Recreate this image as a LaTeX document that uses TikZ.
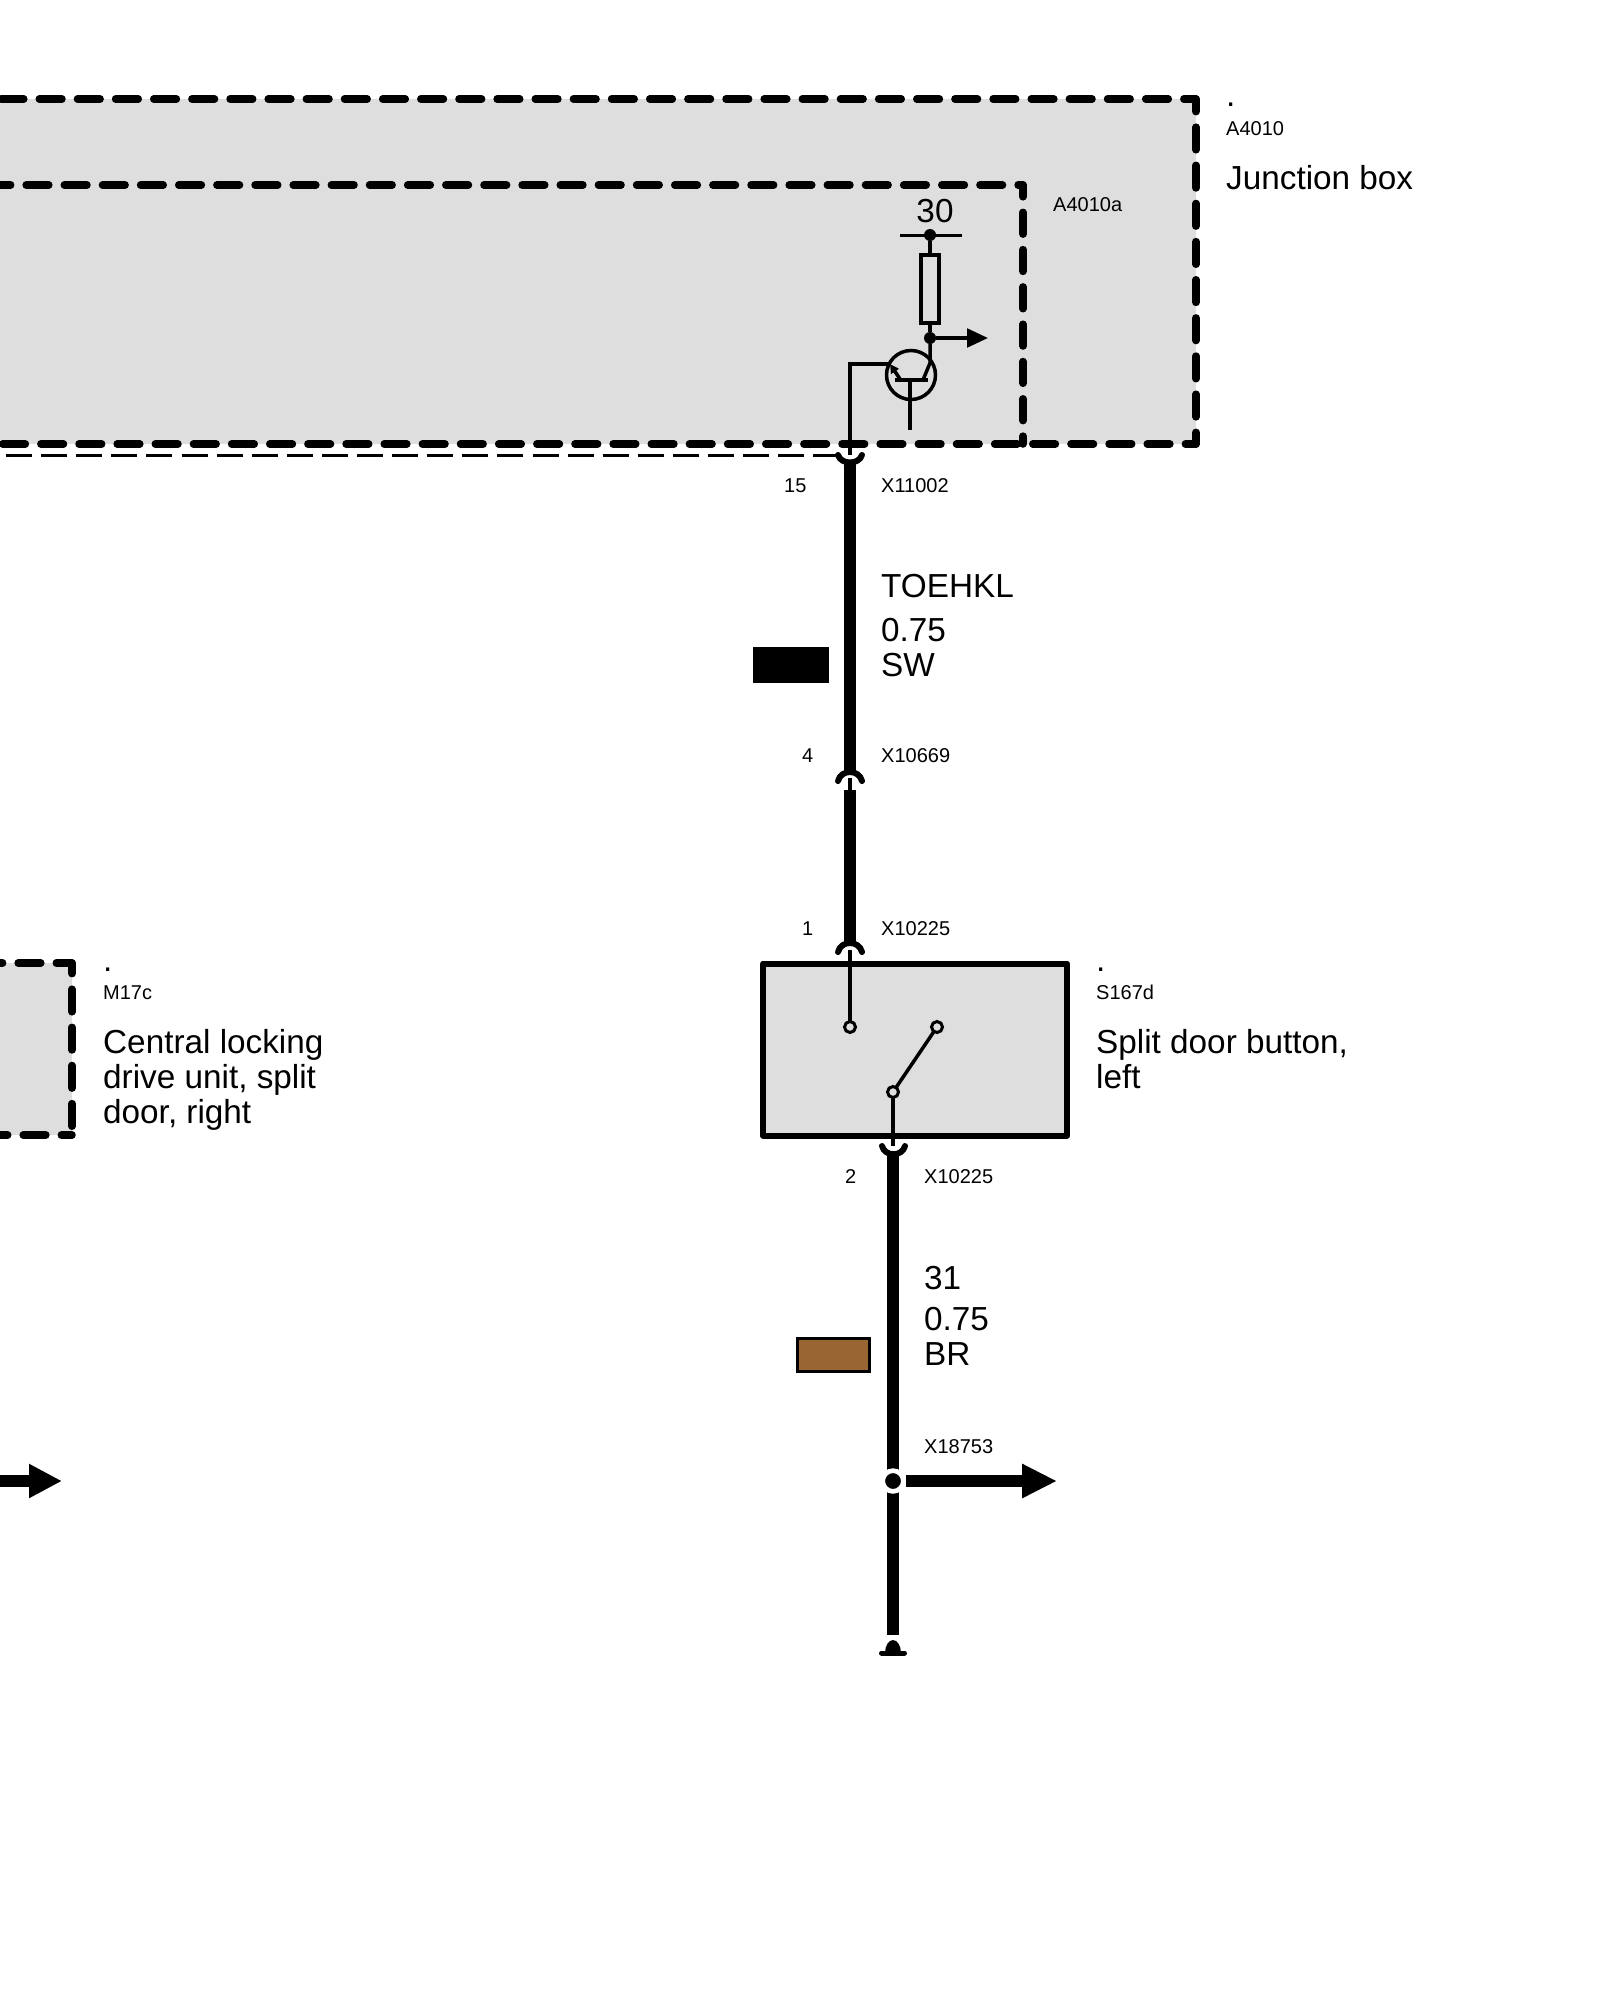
\documentclass[tikz,border=0pt]{standalone}
\usepackage{fontspec}
\setmainfont{Liberation Sans}
\usetikzlibrary{arrows.meta}
\definecolor{boxgrey}{HTML}{DEDEDE}
\definecolor{wirebrown}{HTML}{996633}
\tikzset{
  smalltext/.style={anchor=base west,inner sep=0pt,font=\fontsize{20}{24}\selectfont},
  bigtext/.style={anchor=base west,inner sep=0pt,align=left,font=\fontsize{33.3}{35}\selectfont},
  dashside/.style={line width=7.5pt,line cap=round,dash pattern=on 22.65pt off 15.5pt},
  thickwire/.style={line width=12.5pt},
  thinwire/.style={line width=3.5pt},
  hookline/.style={line width=6pt,line cap=round},
  contact/.style={circle,draw,fill=boxgrey,line width=3pt,inner sep=0pt,outer sep=0pt,minimum size=11pt},
  tapdot/.style={circle,fill=black,inner sep=0pt,outer sep=0pt,minimum size=12pt},
  junctiondot/.style={circle,fill=black,draw=white,line width=4.7pt,inner sep=0pt,outer sep=0pt,minimum size=20.7pt},
}
\begin{document}
\begin{tikzpicture}[x=1pt,y=-1pt]
\useasboundingbox[fill=white] (0,0) rectangle (1600,2000);
%A4010
\fill[boxgrey] (0,99) rectangle (1196,444);
\draw[dashside] (-37,99) -- (1196,99);
\draw[dashside,dash phase=10pt] (1196,99) -- (1196,444);
\draw[dashside,dash phase=12pt] (1196,444) -- (-38,444);
%A4010a
\draw[dashside] (-12,185) -- (1023,185);
\draw[dashside,dash pattern=on 21.8pt off 15.5pt,dash phase=10pt] (1023,185) -- (1023,444);
\draw[line width=3.3pt,dash pattern=on 26pt off 9.1pt] (6,455.5) -- (838,455.5);
\node[bigtext] (dotA) at (1226,106) {.};
\node[smalltext] (lblA4010) at (1226,135) {A4010};
\node[bigtext] (lblJunction) at (1226,189) {Junction box};
\node[smalltext] (lblA4010a) at (1053,211) {A4010a};
%circuit in A4010a
\node[bigtext,anchor=base] (lbl30) at (935,222) {30};
\coordinate (barL) at (900,235);
\coordinate (barR) at (962,235);
\node[tapdot] (dotTop) at (930,235) {};
\node[draw,thinwire,inner sep=0pt,minimum width=18pt,minimum height=68pt] (resistor) at (930,289) {};
\node[tapdot] (dotTap) at (930,338) {};
\coordinate (tapEnd) at (988,338);
\node[circle,draw,thinwire,inner sep=0pt,minimum size=49pt] (transistor) at (911,375) {};
\coordinate (baseL) at (895,380);
\coordinate (baseR) at (928,380);
\coordinate (baseM) at (910,380);
\coordinate (gate) at (910,430);
\coordinate (collector) at (930,363);
\coordinate (collectorIn) at (923,380);
\coordinate (emitterIn) at (900,379);
\coordinate (emitterOut) at (890,364);
\draw[line width=3pt] (barL) -- (barR);
\draw[thinwire] (dotTop) -- (resistor);
\draw[thinwire] (resistor) -- (dotTap);
\draw[thinwire] (dotTap) -- (collector) -- (collectorIn);
\draw[thinwire,-{Triangle[length=21pt,width=18.6pt]}] (dotTap) -- (tapEnd);
\draw[thinwire] (baseL) -- (baseR);
\draw[thinwire] (baseM) -- (gate);
\draw[thinwire,-{Triangle[length=9pt,width=9pt]}] (emitterIn) -- (emitterOut);
%X11002
\coordinate (pin15) at (850,455);
\draw[thinwire] (pin15) |- (emitterOut);
\draw[hookline] (838,455) .. controls (841,465) and (859,465) .. (862,455);
\node[smalltext] (lbl15) at (784,492) {15};
\node[smalltext] (lblX11002) at (881,492) {X11002};
%wire TOEHKL
\coordinate (wireAtop) at (850,462);
\coordinate (wireAbot) at (850,772);
\draw[thickwire] (wireAtop) -- (wireAbot);
\node[bigtext] (lblTOEHKL) at (881,597) {TOEHKL};
\node[bigtext] (lblSW) at (881,676) {0.75\\SW};
\draw[fill=black,line width=3pt] (754,648) rectangle (827,681);
%X10669
\draw[hookline] (838,781) .. controls (841,769) and (859,769) .. (862,781);
\coordinate (pin4) at (850,778);
\coordinate (wireBtop) at (850,790);
\coordinate (wireBbot) at (850,944);
\draw[thinwire] (pin4) -- (wireBtop);
\draw[thickwire] (wireBtop) -- (wireBbot);
\node[smalltext] (lbl4) at (802,762) {4};
\node[smalltext] (lblX10669) at (881,762) {X10669};
%S167d
\node[smalltext] (lbl1) at (802,935) {1};
\node[smalltext] (lblX10225a) at (881,935) {X10225};
\draw[hookline] (838,952) .. controls (841,940) and (859,940) .. (862,952);
\node[draw,fill=boxgrey,line width=6pt,line join=round,inner sep=0pt,outer sep=0pt,minimum width=304pt,minimum height=172pt] (switchbox) at (915,1049.5) {};
\coordinate (pin1) at (850,950);
\node[contact] (contactA) at (850,1027) {};
\node[contact] (contactB) at (937,1027) {};
\node[contact] (contactC) at (893,1092) {};
\draw[thinwire] (pin1) -- (contactA);
\draw[thinwire] (contactC) -- (contactB);
\coordinate (pin2) at (893,1146);
\draw[thinwire] (contactC) -- (pin2);
\draw[hookline] (882,1146) .. controls (885,1157) and (902,1157) .. (905,1146);
\node[bigtext] (dotS) at (1096,971) {.};
\node[smalltext] (lblS167d) at (1096,999) {S167d};
\node[bigtext] (lblSplit) at (1096,1088) {Split door button,\\left};
\node[smalltext] (lbl2) at (845,1183) {2};
\node[smalltext] (lblX10225b) at (924,1183) {X10225};
%wire 31
\coordinate (wireCtop) at (893,1153);
\coordinate (wireCbot) at (893,1635);
\coordinate (tapCend) at (1057,1481);
\draw[thickwire] (wireCtop) -- (wireCbot);
\node[junctiondot] (junction) at (893,1481) {};
\draw[thickwire,shorten <=2.5pt,-{Triangle[length=35pt,width=32pt]}] (junction.east) -- (tapCend);
\node[bigtext] (lbl31) at (924,1289) {31};
\node[bigtext] (lblBR) at (924,1365) {0.75\\BR};
\draw[fill=wirebrown,line width=3pt] (797,1338) rectangle (869,1371);
\node[smalltext] (lblX18753) at (924,1453) {X18753};
%ground
\coordinate (groundL) at (881.5,1653);
\coordinate (groundR) at (904.5,1653);
\draw[line width=5pt,line cap=round] (groundL) -- (groundR);
\fill (885,1653) arc[start angle=180,end angle=360,x radius=8,y radius=13];
%M17c
\fill[boxgrey] (0,963) rectangle (72,1135);
\draw[dashside] (-20,963) -- (72,963);
\draw[dashside,dash phase=12pt] (72,963) -- (72,1135);
\draw[dashside,dash phase=12pt] (72,1135) -- (-20,1135);
\node[bigtext] (dotM) at (103,971) {.};
\node[smalltext] (lblM17c) at (103,999) {M17c};
\node[bigtext] (lblCentral) at (103,1123) {Central locking\\drive unit, split\\door, right};
%arrow left
\coordinate (tapLstart) at (-10,1481);
\coordinate (tapLend) at (62,1481);
\draw[thickwire,-{Triangle[length=33pt,width=32pt]}] (tapLstart) -- (tapLend);
\end{tikzpicture}
\end{document}
